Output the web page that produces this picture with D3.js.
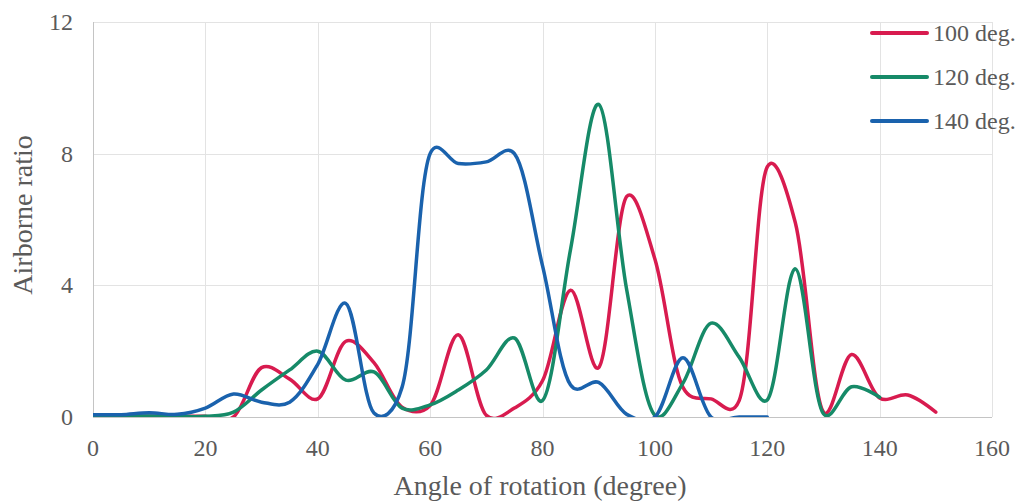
<!DOCTYPE html>
<html lang="en">
<head>
    <meta charset="UTF-8">
    <title>Airborne ratio vs angle of rotation</title>
    <style>
        body {
            margin: 0;
            background: #fff;
        }
        svg {
            display: block;
            font-family: "Liberation Serif", "DejaVu Serif", serif;
        }
        .grid line {
            stroke: #e3e3e3;
            stroke-width: 1;
            shape-rendering: crispEdges;
        }
        .tick-label {
            fill: #5a5a5a;
            font-size: 24px;
        }
        .axis-title {
            fill: #5a5a5a;
            font-size: 28px;
        }
        .legend text {
            fill: #5a5a5a;
            font-size: 24px;
        }
        .series {
            fill: none;
            stroke-width: 3.5;
            stroke-linejoin: round;
            stroke-linecap: round;
        }
    </style>
</head>
<body>
    <svg width="1020" height="502"></svg>
    <script src="https://d3js.org/d3.v7.min.js"></script>
    <script>
        // angles (degree) at which each case was measured
        const angles100 = [0, 5, 10, 15, 20, 25, 30, 35, 40, 45, 50, 55, 60, 65, 70, 75, 80, 85, 90, 95, 100, 105, 110, 115, 120, 125, 130, 135, 140, 145, 150];
        const angles120 = [0, 5, 10, 15, 20, 25, 30, 35, 40, 45, 50, 55, 60, 65, 70, 75, 80, 85, 90, 95, 100, 105, 110, 115, 120, 125, 130, 135, 140];
        const angles140 = [0, 5, 10, 15, 20, 25, 30, 35, 40, 45, 50, 55, 60, 65, 70, 75, 80, 85, 90, 95, 100, 105, 110, 115, 120];

        // airborne ratio
        const ratio100 = [0.02, 0.02, 0.02, 0.02, 0.02, 0.0, 1.5, 1.15, 0.55, 2.3, 1.65, 0.3, 0.35, 2.5, 0.05, 0.27, 1.1, 3.85, 1.5, 6.7, 4.8, 0.9, 0.55, 0.5, 7.6, 5.9, 0.15, 1.9, 0.58, 0.67, 0.15];
        const ratio120 = [0.03, 0.03, 0.03, 0.02, 0.02, 0.15, 0.82, 1.43, 2.0, 1.12, 1.37, 0.27, 0.37, 0.82, 1.43, 2.4, 0.5, 5.1, 9.5, 3.85, 0.05, 1.03, 2.85, 1.82, 0.52, 4.5, 0.1, 0.92, 0.6];
        const ratio140 = [0.07, 0.07, 0.13, 0.08, 0.27, 0.7, 0.45, 0.45, 1.6, 3.45, 0.12, 0.9, 8.0, 7.7, 7.75, 8.0, 4.6, 0.97, 1.05, 0.08, 0.0, 1.8, 0.0, 0.0, 0.0];

        const seriesNames = ["100 deg.", "120 deg.", "140 deg."];
        const seriesColors = ["#d81b4f", "#168a68", "#1a62ad"];

        const xTicks = [0, 20, 40, 60, 80, 100, 120, 140, 160];
        const yTicks = [0, 4, 8, 12];

        const series = [
            {name: seriesNames[0], color: seriesColors[0], values: angles100.map((a, i) => ({x: a, y: ratio100[i]}))},
            {name: seriesNames[1], color: seriesColors[1], values: angles120.map((a, i) => ({x: a, y: ratio120[i]}))},
            {name: seriesNames[2], color: seriesColors[2], values: angles140.map((a, i) => ({x: a, y: ratio140[i]}))}
        ];

        const svg = d3.select("svg");
        const plot = {left: 93, right: 992, top: 22, bottom: 417};

        const x = d3.scaleLinear().domain([0, 160]).range([plot.left, plot.right]);
        const y = d3.scaleLinear().domain([0, 12]).range([plot.bottom, plot.top]);

        // gridlines
        const grid = svg.append("g").attr("class", "grid");
        grid.selectAll(".vgrid")
            .data(xTicks)
            .enter().append("line")
            .attr("x1", d => Math.round(x(d)) + 0.5)
            .attr("x2", d => Math.round(x(d)) + 0.5)
            .attr("y1", plot.top)
            .attr("y2", plot.bottom);
        grid.selectAll(".hgrid")
            .data(yTicks)
            .enter().append("line")
            .attr("x1", plot.left)
            .attr("x2", plot.right)
            .attr("y1", d => Math.round(y(d)) + 0.5)
            .attr("y2", d => Math.round(y(d)) + 0.5);

        // axis lines
        svg.append("line")
            .attr("x1", plot.left + 0.5).attr("x2", plot.left + 0.5)
            .attr("y1", plot.top).attr("y2", plot.bottom)
            .style("stroke", "#c4c4c4").style("shape-rendering", "crispEdges");
        svg.append("line")
            .attr("x1", plot.left).attr("x2", plot.right)
            .attr("y1", plot.bottom + 0.5).attr("y2", plot.bottom + 0.5)
            .style("stroke", "#c4c4c4").style("shape-rendering", "crispEdges");

        // tick labels
        svg.selectAll(".xlabel")
            .data(xTicks)
            .enter().append("text")
            .attr("class", "tick-label")
            .attr("x", d => x(d))
            .attr("y", 456)
            .attr("text-anchor", "middle")
            .text(d => d);
        svg.selectAll(".ylabel")
            .data(yTicks)
            .enter().append("text")
            .attr("class", "tick-label")
            .attr("x", 73)
            .attr("y", d => y(d) + 8)
            .attr("text-anchor", "end")
            .text(d => d);

        // axis titles
        svg.append("text")
            .attr("class", "axis-title")
            .attr("x", 540)
            .attr("y", 495)
            .attr("text-anchor", "middle")
            .text("Angle of rotation (degree)");
        svg.append("text")
            .attr("class", "axis-title")
            .attr("transform", "translate(32,215) rotate(-90)")
            .attr("text-anchor", "middle")
            .text("Airborne ratio");

        // lines, clipped to the plot area like the original
        svg.append("clipPath")
            .attr("id", "plot-clip")
            .append("rect")
            .attr("x", plot.left)
            .attr("y", plot.top)
            .attr("width", plot.right - plot.left)
            .attr("height", plot.bottom - plot.top);

        const line = d3.line()
            .x(d => x(d.x))
            .y(d => y(d.y))
            .curve(d3.curveCatmullRom.alpha(0.2));

        svg.append("g")
            .attr("clip-path", "url(#plot-clip)")
            .selectAll(".series")
            .data(series)
            .enter().append("path")
            .attr("class", "series")
            .attr("stroke", d => d.color)
            .attr("d", d => line(d.values));

        // legend
        const legend = svg.append("g").attr("class", "legend");
        const rows = legend.selectAll("g")
            .data(series)
            .enter().append("g")
            .attr("transform", (d, i) => `translate(872,${33 + i * 44})`);
        rows.append("line")
            .attr("x1", 0).attr("x2", 55)
            .attr("y1", 0).attr("y2", 0)
            .attr("stroke", d => d.color)
            .attr("stroke-width", 4)
            .attr("stroke-linecap", "round");
        rows.append("text")
            .attr("x", 61)
            .attr("y", 8)
            .text(d => d.name);
    </script>
</body>
</html>
